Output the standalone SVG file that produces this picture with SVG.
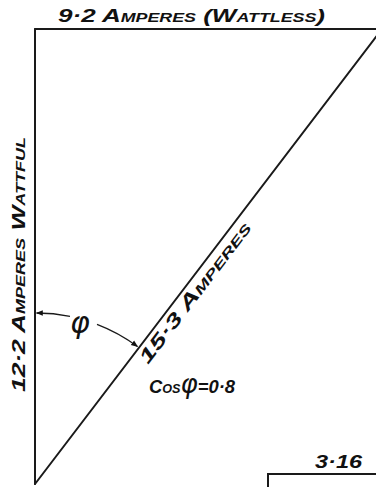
<svg xmlns="http://www.w3.org/2000/svg" width="376" height="487" viewBox="0 0 376 487">
<style>
.ln{stroke:#1a1a1a;stroke-width:2;fill:none;stroke-linecap:round}
.thin{stroke:#1a1a1a;stroke-width:1.3;fill:none}
.lbl{font-family:"Liberation Sans",Arial,sans-serif;font-style:italic;font-weight:bold;font-variant:small-caps;fill:#111;font-size:19px}
.phi{font-family:"DejaVu Sans","Liberation Sans",sans-serif;font-style:italic;font-weight:normal;font-variant:normal;fill:#111}
</style>
<defs>
<marker id="ah" viewBox="0 0 10 10" refX="9" refY="5" markerWidth="7" markerHeight="7" orient="auto" markerUnits="userSpaceOnUse">
<path d="M0,1 L10,5 L0,9 Z" fill="#111"/>
</marker>
</defs>
<rect width="376" height="487" fill="#fff"/>
<g id="connectors">
<line class="ln" x1="35" y1="29" x2="376" y2="29"/>
<line class="ln" x1="35" y1="29" x2="35" y2="484"/>
<line class="ln" x1="35" y1="484" x2="382" y2="29"/>
<path class="thin" d="M70,316.4 A170 170 0 0 0 36.5,313" marker-end="url(#ah)"/>
<path class="thin" d="M97,324.3 A170 170 0 0 1 137.5,346.5" marker-end="url(#ah)"/>
<path class="ln" d="M268,487 L268,474 L376,474"/>
</g>
<g id="label-top">
<text class="lbl" x="58" y="22" textLength="267" lengthAdjust="spacingAndGlyphs">9·2 Amperes (Wattless)</text>
</g>
<g id="label-left">
<text class="lbl" transform="translate(25,392) rotate(-90)" x="0" y="0" textLength="255" lengthAdjust="spacingAndGlyphs">12·2 Amperes Wattful</text>
</g>
<g id="label-diag">
<text class="lbl" transform="translate(148,365) rotate(-52.75)" x="0" y="0" textLength="172" lengthAdjust="spacingAndGlyphs">15·3 Amperes</text>
</g>
<g id="label-phi">
<text class="phi" x="70" y="333" font-size="30">φ</text>
</g>
<g id="label-cos">
<text class="lbl" x="149" y="393" font-size="22" textLength="86" lengthAdjust="spacingAndGlyphs">Cos<tspan class="phi" font-size="27">φ</tspan>=0·8</text>
</g>
<g id="label-316">
<text class="lbl" x="315" y="468" textLength="47" lengthAdjust="spacingAndGlyphs" font-size="16">3·16</text>
</g>
</svg>
